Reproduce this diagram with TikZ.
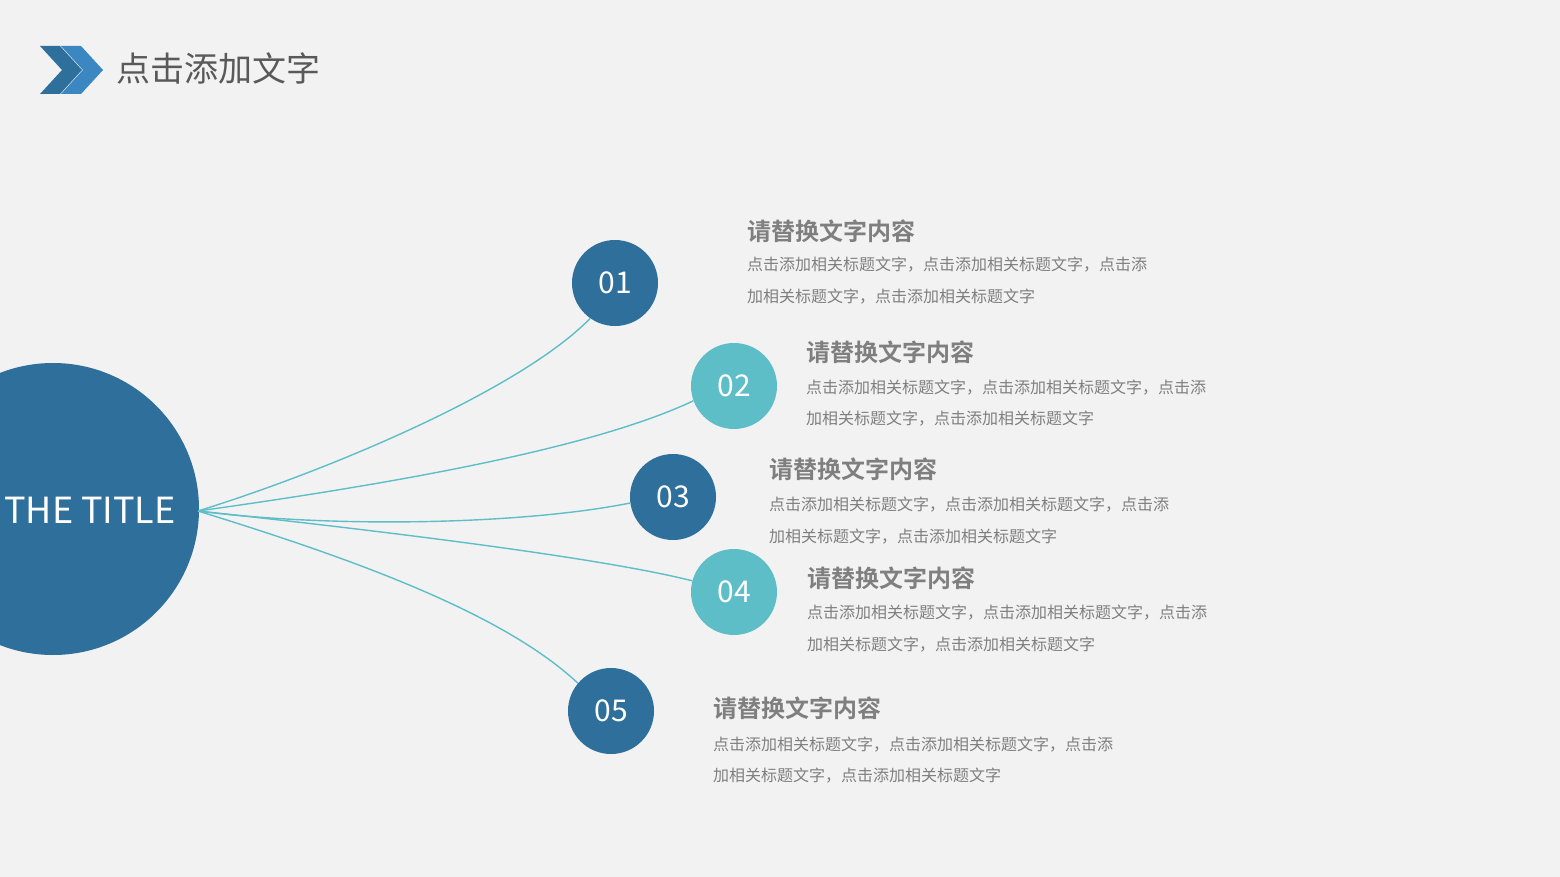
\documentclass[tikz,border=0pt]{standalone}
\usepackage{fontspec}
\setmainfont{Noto Sans CJK SC}
\newfontfamily\cjkb{Noto Sans CJK SC Bold}
\definecolor{bg}{HTML}{F2F2F2}
\definecolor{dblue}{HTML}{2F6F9C}
\definecolor{teal}{HTML}{5DBEC7}
\definecolor{lblue}{HTML}{3A87C2}
\definecolor{tgray}{HTML}{7F7F7F}
\definecolor{hgray}{HTML}{595959}
\tikzset{
  num/.style={circle,minimum size=86pt,inner sep=0pt,text=white,font=\fontsize{30}{30}\selectfont},
  ttl/.style={anchor=west,inner sep=0pt,text=tgray,font=\cjkb\fontsize{24}{24}\selectfont},
  body/.style={anchor=west,inner sep=0pt,text=tgray,font=\fontsize{16}{16}\selectfont},
  link/.style={teal,line width=1.4pt}
}
\begin{document}
\begin{tikzpicture}[x=1pt,y=-1pt]
\fill[bg] (0,0) rectangle (1560,877);
\useasboundingbox (0,0) rectangle (1560,877);
% header
\fill[dblue] (40,46)--(60,46)--(82,70)--(60,94)--(40,94)--(62,70)--cycle;
\fill[lblue] (61,46)--(81,46)--(103,70)--(81,94)--(61,94)--(83,70)--cycle;
\node[anchor=west,inner sep=0pt,text=hgray,font=\fontsize{34}{34}\selectfont] (hdr) at (116,68) {点击添加文字};
% big circle
\begin{scope}
\clip (0,0) rectangle (1560,877);
\fill[dblue] (53,509) circle (146);
\end{scope}
\node[inner sep=0pt,text=white,font=\fontsize{36}{36}\selectfont] (title) at (90,510) {THE TITLE};
\coordinate (hub) at (198,511);
% small circles
\node[num,fill=dblue] (c1) at (615,283) {01};
\node[num,fill=teal] (c2) at (734,386) {02};
\node[num,fill=dblue] (c3) at (673,497) {03};
\node[num,fill=teal] (c4) at (734,592) {04};
\node[num,fill=dblue] (c5) at (611,711) {05};
% links
\draw[link] (hub) .. controls (330,470) and (520,390) .. (c1.235);
\draw[link] (hub) .. controls (420,480) and (600,445) .. (c2.200);
\draw[link] (hub) .. controls (330,528) and (520,525) .. (c3.188);
\draw[link] (hub) .. controls (420,535) and (610,560) .. (c4.165);
\draw[link] (hub) .. controls (340,555) and (500,610) .. (c5.140);
% texts
\node[ttl] (t1) at (747,231) {请替换文字内容};
\node[body] (b1a) at (747,265) {点击添加相关标题文字，点击添加相关标题文字，点击添};
\node[body] (b1b) at (747,297) {加相关标题文字，点击添加相关标题文字};
\node[ttl] (t2) at (806,352) {请替换文字内容};
\node[body] (b2a) at (806,388) {点击添加相关标题文字，点击添加相关标题文字，点击添};
\node[body] (b2b) at (806,419) {加相关标题文字，点击添加相关标题文字};
\node[ttl] (t3) at (769,469) {请替换文字内容};
\node[body] (b3a) at (769,505) {点击添加相关标题文字，点击添加相关标题文字，点击添};
\node[body] (b3b) at (769,537) {加相关标题文字，点击添加相关标题文字};
\node[ttl] (t4) at (807,578) {请替换文字内容};
\node[body] (b4a) at (807,613) {点击添加相关标题文字，点击添加相关标题文字，点击添};
\node[body] (b4b) at (807,645) {加相关标题文字，点击添加相关标题文字};
\node[ttl] (t5) at (713,708) {请替换文字内容};
\node[body] (b5a) at (713,745) {点击添加相关标题文字，点击添加相关标题文字，点击添};
\node[body] (b5b) at (713,776) {加相关标题文字，点击添加相关标题文字};
\end{tikzpicture}
\end{document}
